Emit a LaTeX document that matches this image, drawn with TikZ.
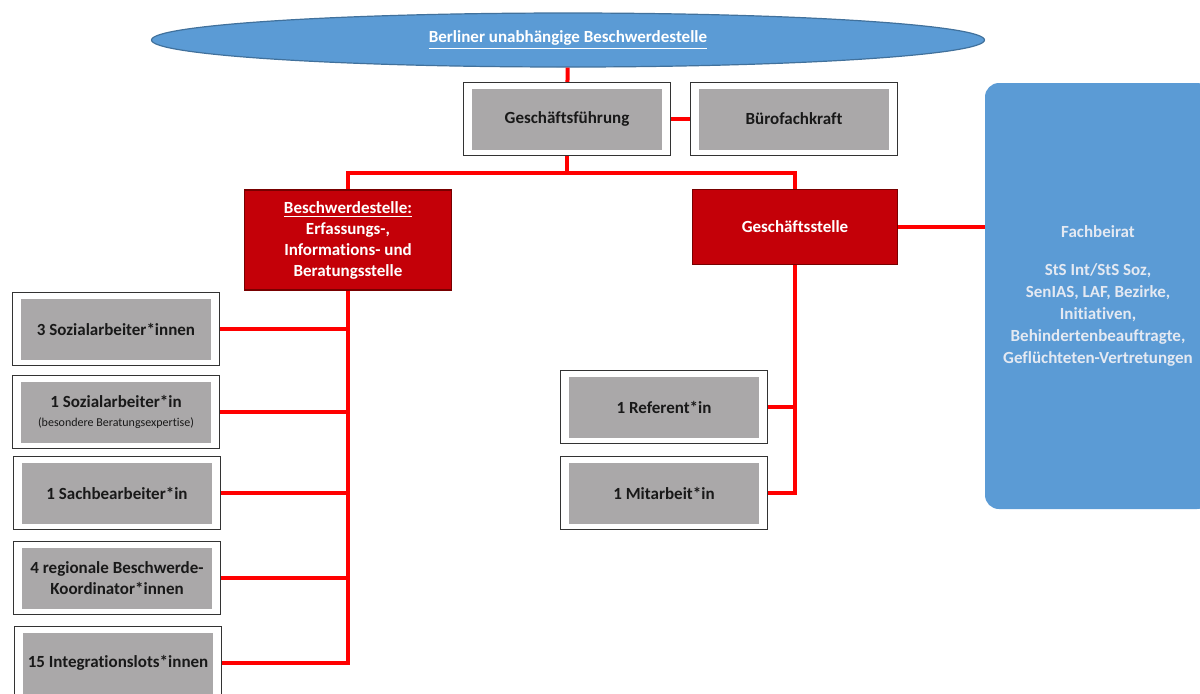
\documentclass[tikz,border=0pt]{standalone}
\usepackage{fontspec}
\setmainfont{Carlito}[Ligatures=NoCommon]
\usetikzlibrary{shapes.geometric}
\definecolor{boardblue}{RGB}{91,155,213}
\definecolor{boardedge}{RGB}{65,113,156}
\definecolor{unitred}{RGB}{196,0,8}
\definecolor{unitedge}{RGB}{120,0,0}
\definecolor{staffgrey}{RGB}{170,168,169}
\definecolor{boardtext}{RGB}{228,233,242}
\begin{document}
\begin{tikzpicture}[x=0.5pt,y=-0.5pt,
    font=\fontsize{8.5}{10.5}\selectfont\bfseries,
    frame/.style={draw=black!80,line width=0.65pt,fill=white,inner sep=0pt,
      minimum width=103.5pt,minimum height=36.5pt},
    staff/.style={fill=staffgrey,text=black!90,align=center,inner sep=0pt,
      minimum width=95pt,minimum height=30.5pt},
    unit/.style={draw=unitedge,line width=0.6pt,fill=unitred,text=white,
      align=center,inner sep=0pt},
    link/.style={red,line width=2pt}]
  \useasboundingbox (0,0) rectangle (1200,693);
  % top
  \node[ellipse,draw=boardedge,line width=0.6pt,fill=boardblue,text=white,
    minimum width=416.5pt,minimum height=27pt,inner sep=0pt] (bub) at (568,40)
    {\underline{Berliner unabhängige Beschwerdestelle}};
  \node[frame] (gf) at (567,119) {};
  \node[staff] at (gf) {Geschäftsführung};
  \node[frame] (bfk) at (794,119) {};
  \node[staff] at (bfk) {Bürofachkraft};
  % units
  \node[unit,minimum width=103.5pt,minimum height=50pt] (bst) at (348,240)
    {\underline{Beschwerdestelle:}\\Erfassungs-,\\Informations- und\\Beratungsstelle};
  \node[unit,minimum width=102.5pt,minimum height=37.5pt] (gst) at (795,227)
    {Geschäftsstelle};
  \node[rounded corners=7pt,fill=boardblue,text=boardtext,align=center,
    inner sep=0pt,minimum width=113pt,minimum height=213pt,
    font=\fontsize{8.5}{11}\selectfont\bfseries] (fb) at (1098,296)
    {Fachbeirat\\[8pt]StS Int/StS Soz,\\SenIAS, LAF, Bezirke,\\Initiativen,\\
     Behindertenbeauftragte,\\Geflüchteten-Vertretungen};
  % left column
  \node[frame] (s1) at (116,329) {};
  \node[staff] at (s1) {3 Sozialarbeiter*innen};
  \node[frame] (s2) at (116,412) {};
  \node[staff] at (s2) {1 Sozialarbeiter*in\\[-1pt]
    {\mdseries\fontsize{6}{7}\selectfont (besondere Beratungsexpertise)}};
  \node[frame] (s3) at (117,493) {};
  \node[staff] at (s3) {1 Sachbearbeiter*in};
  \node[frame] (s4) at (117,578) {};
  \node[staff] at (s4) {4 regionale Beschwerde-\\Koordinator*innen};
  \node[frame] (s5) at (118,663) {};
  \node[staff] at (s5) {15 Integrationslots*innen};
  % right column
  \node[frame] (r1) at (664,407) {};
  \node[staff] at (r1) {1 Referent*in};
  \node[frame] (r2) at (664,493) {};
  \node[staff] at (r2) {1 Mitarbeit*in};
  \coordinate (bus) at (567,173);
  \begin{scope}[link]
    \draw (bub) -- (gf);
    \draw (gf) -- (bfk);
    \draw (gf.south) -- (bus);
    \draw (bst.north) |- (bus) -| (gst.north);
    \draw (gst.east) -- (gst.east -| fb.west);
    \draw (bst.south) |- (s5.east);
    \foreach \s in {s1,s2,s3,s4}
      \draw (\s.east) -- (\s.east -| bst.south);
    \draw (gst.south) |- (r2.east);
    \draw (r1.east) -- (r1.east -| gst.south);
  \end{scope}
\end{tikzpicture}
\end{document}
